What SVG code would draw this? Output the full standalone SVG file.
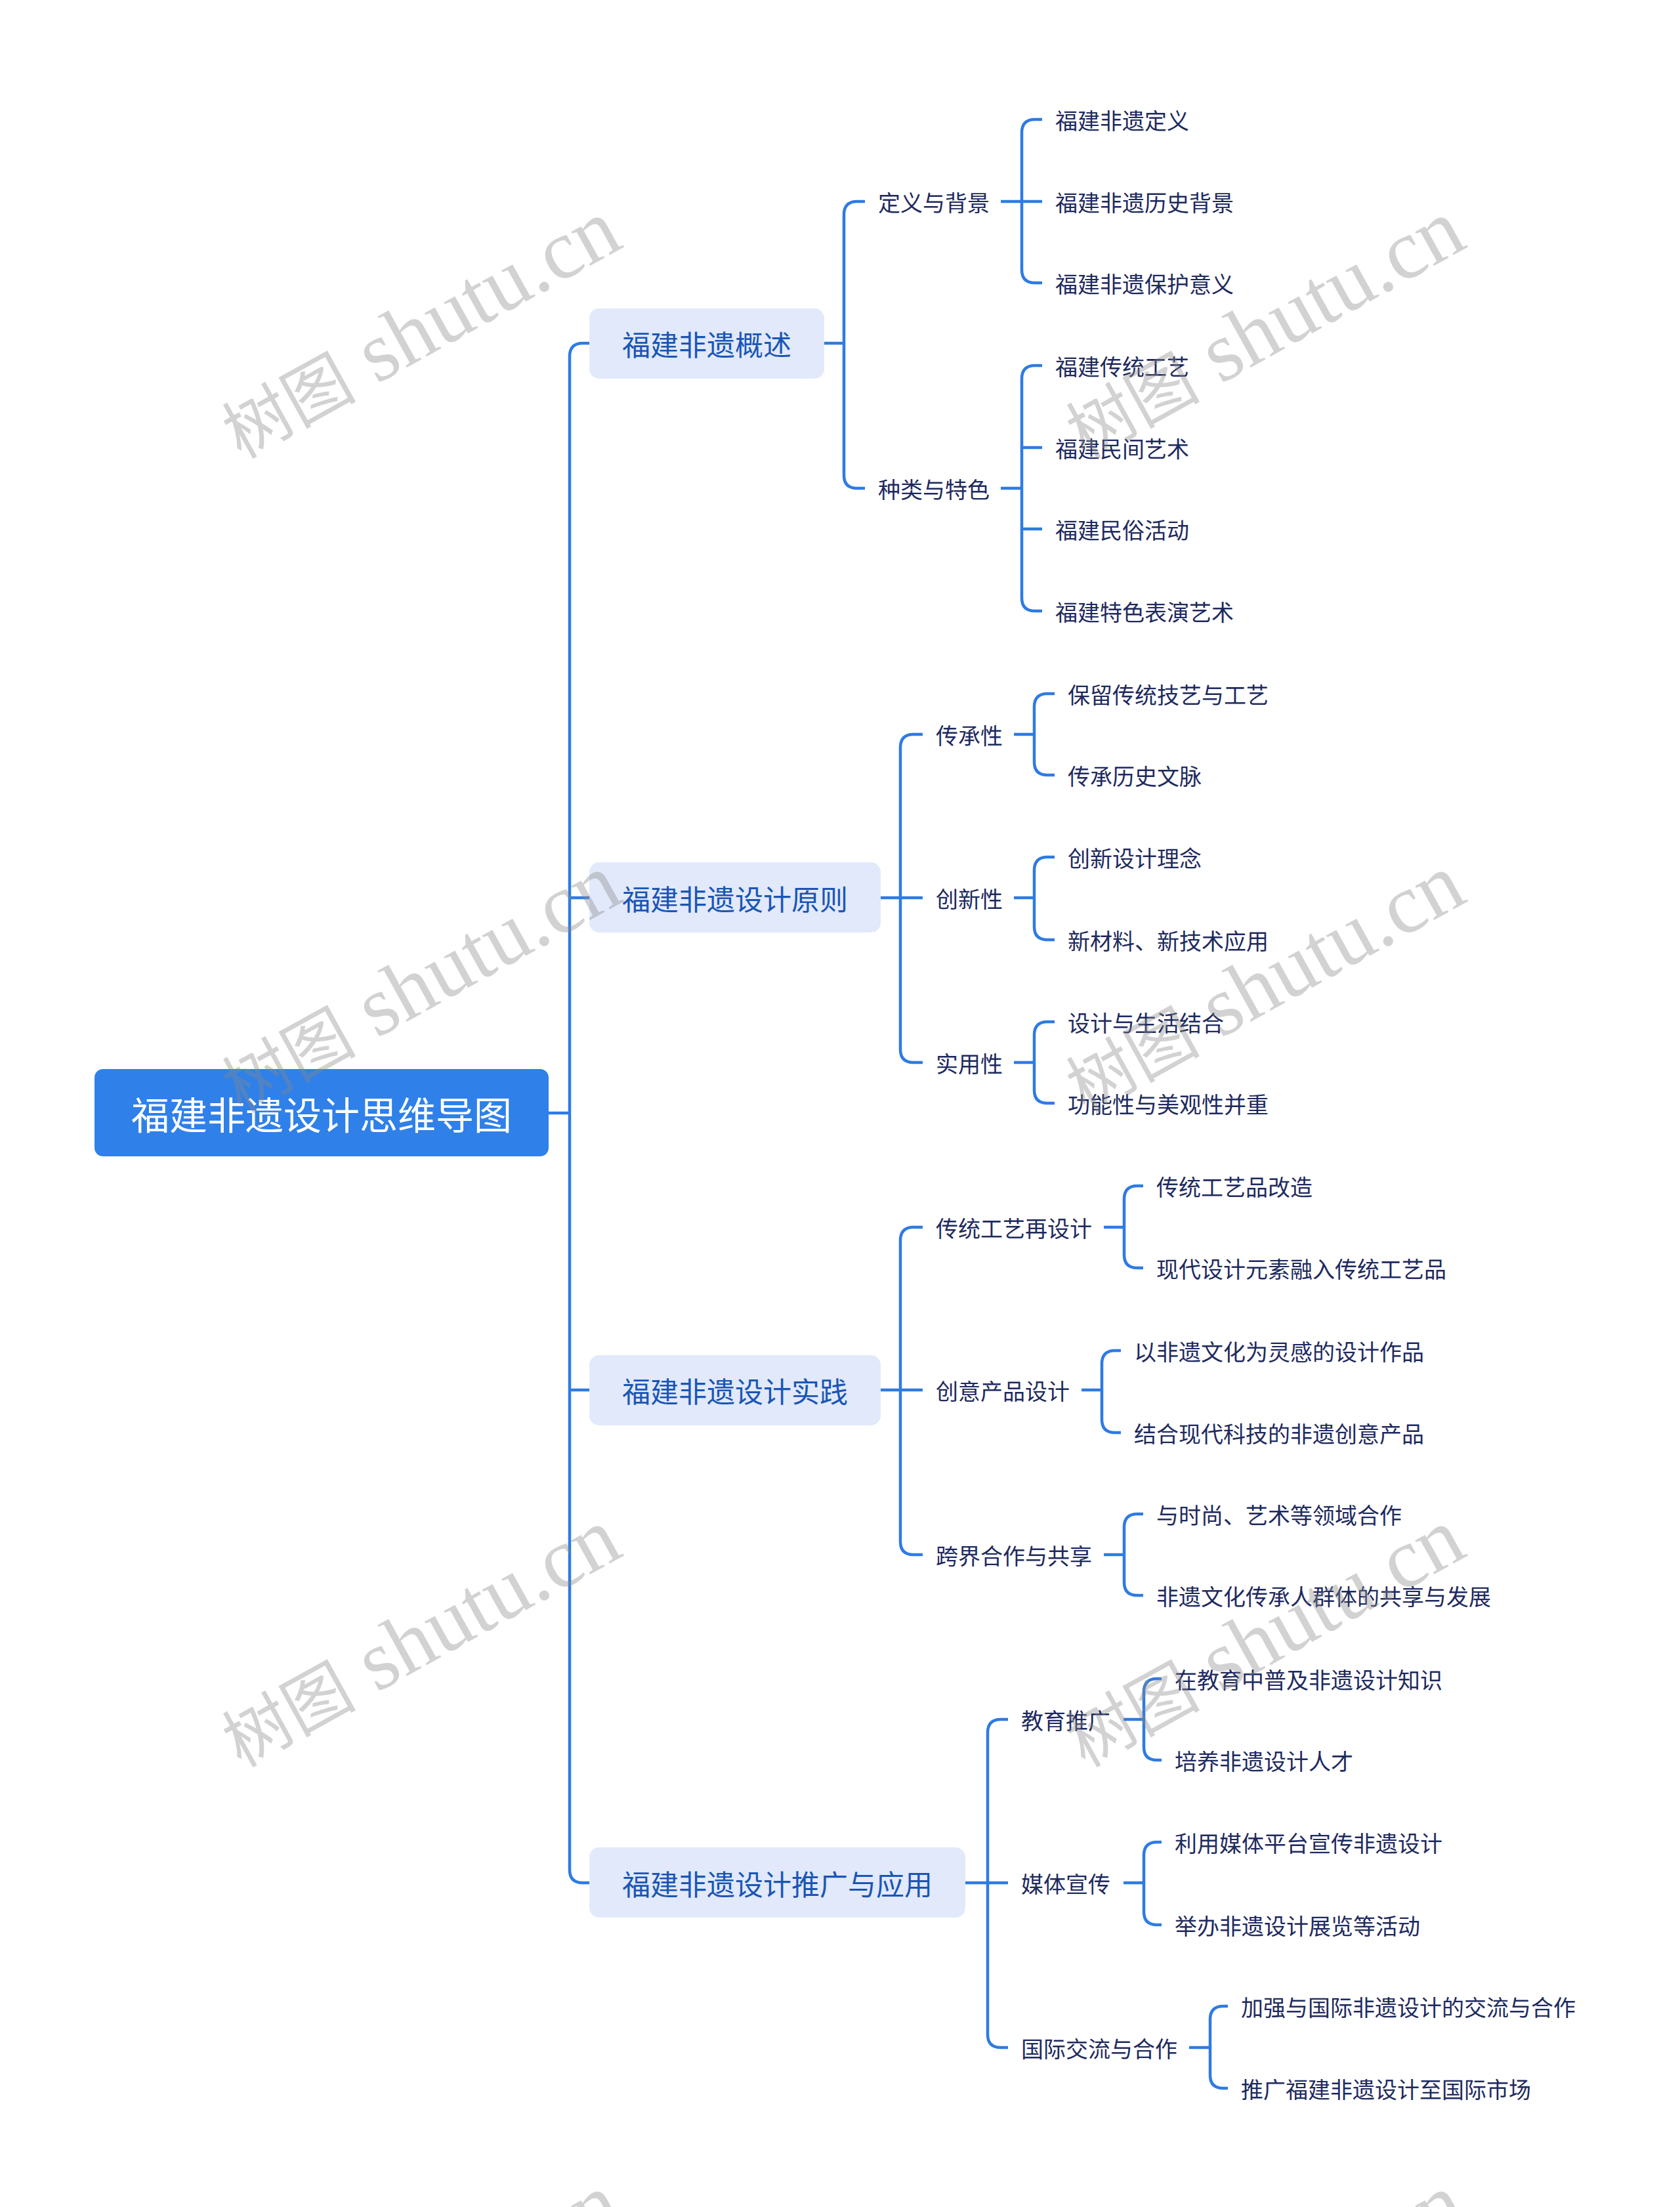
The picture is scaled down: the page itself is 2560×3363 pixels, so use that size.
<svg xmlns="http://www.w3.org/2000/svg" width="2560" height="3363" viewBox="0 0 2560 3363">
<style>
text{font-family:"Noto Sans CJK SC","Noto Sans",sans-serif;dominant-baseline:central}
.root{fill:#2F80E8}
.rt{fill:#ffffff;font-size:58px}
.l1{fill:#E1E9FB}
.l1t{fill:#1A56B4;font-size:43px}
.l2t{fill:#1E2A5E;font-size:34px}
.lf{fill:#1E2A5E;font-size:34px}
.con path{fill:none;stroke:#2E7BE3;stroke-width:4.5;stroke-linecap:butt}
.wm{font-family:"Liberation Serif","Noto Sans CJK SC",serif;font-size:129px;fill:#888888;fill-opacity:0.38;dominant-baseline:alphabetic}
.wm tspan.c{font-family:"Noto Sans CJK SC",sans-serif;font-size:102px}
</style>
<defs>
<text id="wmt" class="wm"><tspan class="c">树图</tspan> shutu.cn</text>
</defs>
<rect width="2560" height="3363" fill="#ffffff"/>
<g id="connectors" class="con">
<path d="M836 1696H868"/>
<path d="M898 523H888Q868 523 868 543V2849Q868 2869 888 2869H898"/>
<path d="M868 1368H898M868 2118H898"/>
<path d="M1256 523H1286"/>
<path d="M1318 307H1306Q1286 307 1286 327V724Q1286 744 1306 744H1318"/>
<path d="M1525 307H1588"/>
<path d="M1588 182H1577Q1557 182 1557 202V411Q1557 431 1577 431H1588"/>
<path d="M1525 744H1557"/>
<path d="M1588 557H1577Q1557 557 1557 577V911Q1557 931 1577 931H1588M1557 682H1588M1557 806H1588"/>
<path d="M1342 1368H1406"/>
<path d="M1406 1119H1392Q1372 1119 1372 1139V1599Q1372 1619 1392 1619H1406"/>
<path d="M1545 1119H1576"/>
<path d="M1607 1057H1596Q1576 1057 1576 1077V1161Q1576 1181 1596 1181H1607"/>
<path d="M1545 1368H1576"/>
<path d="M1607 1306H1596Q1576 1306 1576 1326V1412Q1576 1432 1596 1432H1607"/>
<path d="M1545 1619H1576"/>
<path d="M1607 1557H1596Q1576 1557 1576 1577V1661Q1576 1681 1596 1681H1607"/>
<path d="M1342 2118H1406"/>
<path d="M1406 1870H1392Q1372 1870 1372 1890V2349Q1372 2369 1392 2369H1406"/>
<path d="M1682 1870H1713"/>
<path d="M1742 1807H1733Q1713 1807 1713 1827V1912Q1713 1932 1733 1932H1742"/>
<path d="M1648 2118H1679"/>
<path d="M1708 2058H1699Q1679 2058 1679 2078V2163Q1679 2183 1699 2183H1708"/>
<path d="M1682 2369H1713"/>
<path d="M1742 2307H1733Q1713 2307 1713 2327V2411Q1713 2431 1733 2431H1742"/>
<path d="M1471 2869H1536"/>
<path d="M1536 2620H1525Q1505 2620 1505 2640V3100Q1505 3120 1525 3120H1536"/>
<path d="M1712 2620H1743"/>
<path d="M1770 2558H1763Q1743 2558 1743 2578V2662Q1743 2682 1763 2682H1770"/>
<path d="M1712 2869H1743"/>
<path d="M1770 2807H1763Q1743 2807 1743 2827V2913Q1743 2933 1763 2933H1770"/>
<path d="M1812 3120H1844"/>
<path d="M1871 3057H1864Q1844 3057 1844 3077V3162Q1844 3182 1864 3182H1871"/>
</g>
<g id="n-root"><rect class="root" x="144" y="1629" width="692" height="133" rx="13"/><text class="rt" x="490" y="1696" text-anchor="middle">福建非遗设计思维导图</text></g>
<g id="n1"><rect class="l1" x="898" y="470" width="358" height="107" rx="15"/><text class="l1t" x="948" y="523">福建非遗概述</text></g>
<g id="n2"><rect class="l1" x="898" y="1314" width="444" height="107" rx="15"/><text class="l1t" x="948" y="1368">福建非遗设计原则</text></g>
<g id="n3"><rect class="l1" x="898" y="2065" width="444" height="107" rx="15"/><text class="l1t" x="948" y="2118">福建非遗设计实践</text></g>
<g id="n4"><rect class="l1" x="898" y="2815" width="573" height="107" rx="15"/><text class="l1t" x="948" y="2869">福建非遗设计推广与应用</text></g>
<g id="n1-1"><text class="l2t" x="1338" y="307">定义与背景</text></g>
<g id="n1-1-1"><text class="lf" x="1608" y="182">福建非遗定义</text></g>
<g id="n1-1-2"><text class="lf" x="1608" y="307">福建非遗历史背景</text></g>
<g id="n1-1-3"><text class="lf" x="1608" y="431">福建非遗保护意义</text></g>
<g id="n1-2"><text class="l2t" x="1338" y="744">种类与特色</text></g>
<g id="n1-2-1"><text class="lf" x="1608" y="557">福建传统工艺</text></g>
<g id="n1-2-2"><text class="lf" x="1608" y="682">福建民间艺术</text></g>
<g id="n1-2-3"><text class="lf" x="1608" y="806">福建民俗活动</text></g>
<g id="n1-2-4"><text class="lf" x="1608" y="931">福建特色表演艺术</text></g>
<g id="n2-1"><text class="l2t" x="1426" y="1119">传承性</text></g>
<g id="n2-1-1"><text class="lf" x="1627" y="1057">保留传统技艺与工艺</text></g>
<g id="n2-1-2"><text class="lf" x="1627" y="1181">传承历史文脉</text></g>
<g id="n2-2"><text class="l2t" x="1426" y="1368">创新性</text></g>
<g id="n2-2-1"><text class="lf" x="1627" y="1306">创新设计理念</text></g>
<g id="n2-2-2"><text class="lf" x="1627" y="1432">新材料、新技术应用</text></g>
<g id="n2-3"><text class="l2t" x="1426" y="1619">实用性</text></g>
<g id="n2-3-1"><text class="lf" x="1627" y="1557">设计与生活结合</text></g>
<g id="n2-3-2"><text class="lf" x="1627" y="1681">功能性与美观性并重</text></g>
<g id="n3-1"><text class="l2t" x="1426" y="1870">传统工艺再设计</text></g>
<g id="n3-1-1"><text class="lf" x="1762" y="1807">传统工艺品改造</text></g>
<g id="n3-1-2"><text class="lf" x="1762" y="1932">现代设计元素融入传统工艺品</text></g>
<g id="n3-2"><text class="l2t" x="1426" y="2118">创意产品设计</text></g>
<g id="n3-2-1"><text class="lf" x="1728" y="2058">以非遗文化为灵感的设计作品</text></g>
<g id="n3-2-2"><text class="lf" x="1728" y="2183">结合现代科技的非遗创意产品</text></g>
<g id="n3-3"><text class="l2t" x="1426" y="2369">跨界合作与共享</text></g>
<g id="n3-3-1"><text class="lf" x="1762" y="2307">与时尚、艺术等领域合作</text></g>
<g id="n3-3-2"><text class="lf" x="1762" y="2431">非遗文化传承人群体的共享与发展</text></g>
<g id="n4-1"><text class="l2t" x="1556" y="2620">教育推广</text></g>
<g id="n4-1-1"><text class="lf" x="1790" y="2558">在教育中普及非遗设计知识</text></g>
<g id="n4-1-2"><text class="lf" x="1790" y="2682">培养非遗设计人才</text></g>
<g id="n4-2"><text class="l2t" x="1556" y="2869">媒体宣传</text></g>
<g id="n4-2-1"><text class="lf" x="1790" y="2807">利用媒体平台宣传非遗设计</text></g>
<g id="n4-2-2"><text class="lf" x="1790" y="2933">举办非遗设计展览等活动</text></g>
<g id="n4-3"><text class="l2t" x="1556" y="3120">国际交流与合作</text></g>
<g id="n4-3-1"><text class="lf" x="1891" y="3057">加强与国际非遗设计的交流与合作</text></g>
<g id="n4-3-2"><text class="lf" x="1891" y="3182">推广福建非遗设计至国际市场</text></g>
<g id="watermarks">
<use href="#wmt" transform="translate(367 700) rotate(-29)"/>
<use href="#wmt" transform="translate(1653 700) rotate(-29)"/>
<use href="#wmt" transform="translate(367 1697) rotate(-29)"/>
<use href="#wmt" transform="translate(1653 1697) rotate(-29)"/>
<use href="#wmt" transform="translate(367 2694) rotate(-29)"/>
<use href="#wmt" transform="translate(1653 2694) rotate(-29)"/>
<use href="#wmt" transform="translate(367 3708) rotate(-29)"/>
<use href="#wmt" transform="translate(1653 3708) rotate(-29)"/>
</g>
</svg>
